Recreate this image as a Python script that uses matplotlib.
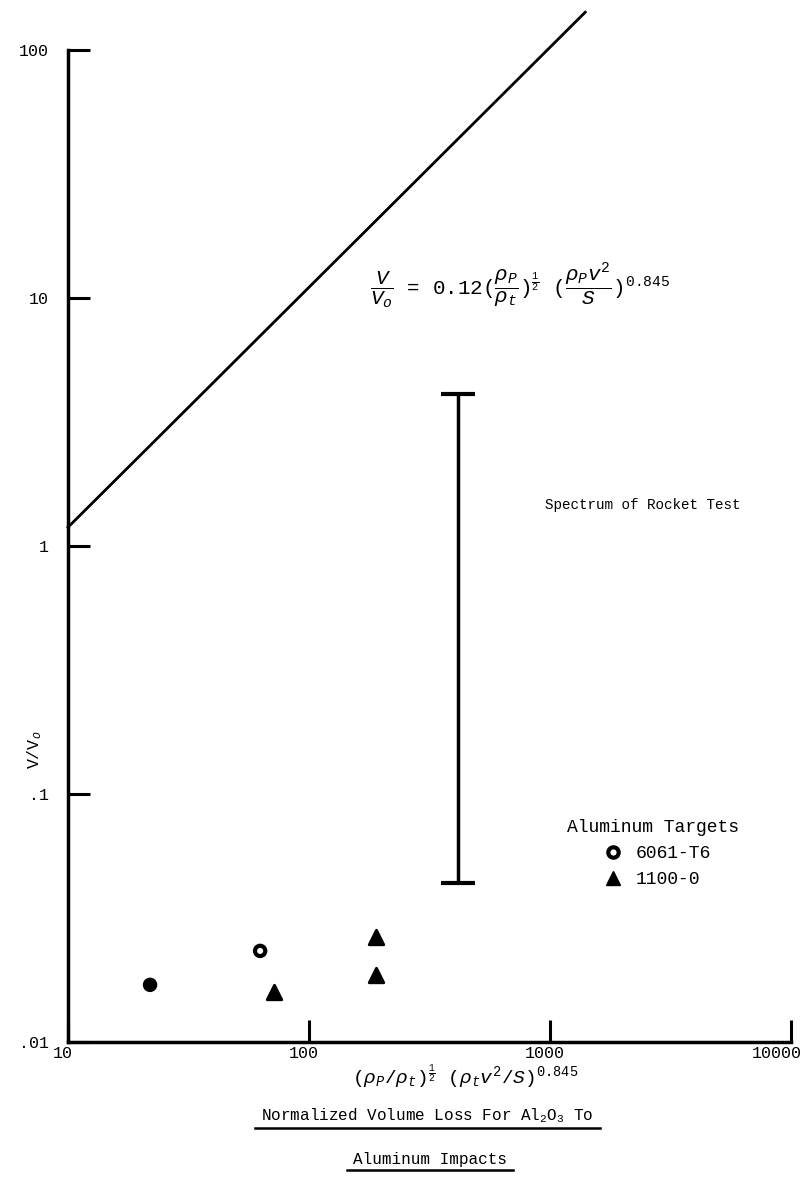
import matplotlib.pyplot as plt
from matplotlib.lines import Line2D
import matplotlib.transforms as mtransforms
import numpy as np

plt.rcParams['font.family'] = ['Liberation Mono', 'DejaVu Sans']
plt.rcParams['mathtext.fontset'] = 'custom'
plt.rcParams['mathtext.rm'] = 'Liberation Mono'
plt.rcParams['mathtext.it'] = 'Liberation Mono:italic'
plt.rcParams['mathtext.bf'] = 'Liberation Mono:bold'

# data
fit_x = [10, 1400]
fit_y = [1.19, 142]

al6061_x = [21.9, 62.7]
al6061_y = [0.0170, 0.0233]
al6061_face = ['black', 'white']

al1100_x = [71.6, 190, 190]
al1100_y = [0.0159, 0.0265, 0.0186]

rocket_x = 415
rocket_lo = 0.0437
rocket_hi = 4.1

x_ticks = [10, 100, 1000, 10000]
x_ticklabels = ['10', '100', '1000', '10000']
y_ticks = [0.01, 0.1, 1, 10, 100]
y_ticklabels = ['.01', '.1', '1', '10', '100']

fig = plt.figure(figsize=(8.07, 11.94), dpi=100)
ax = fig.add_axes([68/807, 152/1194, 723/807, 992/1194])
ax.set_xscale('log')
ax.set_yscale('log')
ax.set_xlim(10, 10000)
ax.set_ylim(0.01, 100)

# fitted line
ax.plot(fit_x, fit_y, color='black', lw=2, clip_on=False)

# rocket test spectrum
mid = np.sqrt(rocket_lo * rocket_hi)
ax.errorbar([rocket_x], [mid], yerr=[[mid - rocket_lo], [rocket_hi - mid]],
            fmt='none', ecolor='black', elinewidth=2.5, capsize=12, capthick=3)

# data points
ax.scatter(al6061_x, al6061_y, s=55, facecolors=al6061_face, edgecolors='black', linewidths=3, zorder=3)
ax.scatter(al1100_x, al1100_y, s=110, marker='^', facecolors='black', edgecolors='black', linewidths=2, zorder=3)

for s in ['top', 'right']:
    ax.spines[s].set_visible(False)
for s in ['left', 'bottom']:
    ax.spines[s].set_linewidth(2.5)

ax.minorticks_off()
ax.set_xticks(x_ticks)
ax.set_xticklabels(x_ticklabels)
ax.set_yticks(y_ticks)
ax.set_yticklabels(y_ticklabels)
ax.tick_params(axis='both', which='major', direction='in', length=16, width=2.2, labelsize=12)
ax.tick_params(axis='y', pad=14)
ax.tick_params(axis='x', pad=3)

# typed labels sit a little left of their ticks
for i, lab in enumerate(ax.get_xticklabels()):
    dx = -14 if i == len(x_ticks) - 1 else -5
    lab.set_transform(lab.get_transform() + mtransforms.ScaledTranslation(dx/100, 0, fig.dpi_scale_trans))

ax.text(0.418, 0.762,
        r'$\dfrac{V}{V_o}$ = 0.12$(\dfrac{\rho_P}{\rho_t})^{\frac{1}{2}}$ $(\dfrac{\rho_P v^2}{S})^{0.845}$',
        transform=ax.transAxes, ha='left', va='center', fontsize=15)
ax.text(0.66, 0.541, 'Spectrum of Rocket Test', transform=ax.transAxes,
        ha='left', va='center', fontsize=10.3)

handles = [Line2D([], [], ls='none', marker='o', ms=7.5, mfc='white', mec='black', mew=3),
           Line2D([], [], ls='none', marker='^', ms=10, mfc='black', mec='black')]
leg = ax.legend(handles, ['6061-T6', '1100-0'], title='Aluminum Targets', frameon=False,
                loc='upper left', bbox_to_anchor=(0.68, 0.232), fontsize=13,
                title_fontsize=13, handletextpad=0.3, labelspacing=0.5, borderaxespad=0)
leg.get_title().set_linespacing(1.8)

fig.text(0.043, 0.372, 'V/V$_o$', rotation=90, ha='center', va='center', fontsize=12)
fig.text(0.577, 0.0985, r'$(\rho_P/\rho_t)^{\frac{1}{2}}$ $(\rho_t v^2/S)^{0.845}$',
         ha='center', va='center', fontsize=14)

t1 = fig.text(0.530, 0.066, 'Normalized Volume Loss For Al$_2$O$_3$ To', ha='center', va='center', fontsize=11.5)
t2 = fig.text(0.533, 0.0285, 'Aluminum Impacts', ha='center', va='center', fontsize=11.5)

fig.canvas.draw()
inv = fig.transFigure.inverted()
for t in [t1, t2]:
    bb = t.get_window_extent()
    (x0, y0), (x1, y1) = inv.transform([[bb.x0 - 6, bb.y0 - 3], [bb.x1 + 6, bb.y0 - 3]])
    fig.add_artist(Line2D([x0, x1], [y0, y1], color='black', lw=1.8, transform=fig.transFigure))

fig.savefig('out.png', dpi=100)
